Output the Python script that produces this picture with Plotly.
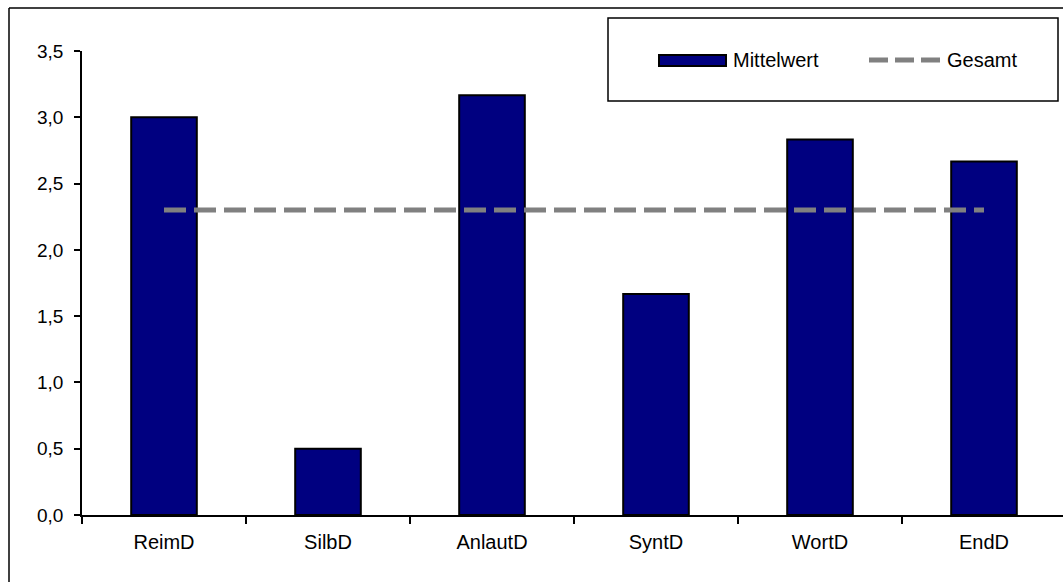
import plotly.graph_objects as go

categories = ["ReimD", "SilbD", "AnlautD", "SyntD", "WortD", "EndD"]
mittelwert = [3.0, 0.5, 3.167, 1.667, 2.833, 2.667]
gesamt = [2.3] * len(categories)
y_ticks = [0, 0.5, 1.0, 1.5, 2.0, 2.5, 3.0, 3.5]
y_tick_labels = ["0,0", "0,5", "1,0", "1,5", "2,0", "2,5", "3,0", "3,5"]

FONT = "Liberation Sans, Arial, sans-serif"
W, H = 1063, 582
L, T, B = 82, 51, 67
PW = W - L
PH = H - T - B

def px(x):
    return (x - L) / PW

def py(y):
    return (H - B - y) / PH

fig = go.Figure()
fig.add_trace(go.Bar(
    x=categories, y=mittelwert, name="Mittelwert",
    marker=dict(color="#000080", line=dict(color="black", width=2)),
    width=0.4, showlegend=False,
))
fig.add_trace(go.Scatter(
    x=categories, y=gesamt, name="Gesamt", mode="lines",
    line=dict(color="#808080", width=5, dash="22px,8px"),
    showlegend=False,
))

shapes = [
    dict(type="line", xref="paper", yref="paper", x0=px(9), x1=px(1070), y0=py(8), y1=py(8),
         line=dict(color="black", width=1.5)),
    dict(type="line", xref="paper", yref="paper", x0=px(9), x1=px(9), y0=py(8), y1=py(590),
         line=dict(color="black", width=1.5)),
    dict(type="rect", xref="paper", yref="paper", x0=px(608), x1=px(1058), y0=py(18), y1=py(101),
         line=dict(color="black", width=1.5), fillcolor="white"),
    dict(type="rect", xref="paper", yref="paper", x0=px(659), x1=px(726), y0=py(55), y1=py(66),
         line=dict(color="black", width=2), fillcolor="#000080"),
    dict(type="line", xref="paper", yref="paper", x0=px(869), x1=px(940), y0=py(60), y1=py(60),
         line=dict(color="#808080", width=5, dash="19px,7px")),
]
annotations = [
    dict(text="Mittelwert", xref="paper", yref="paper", x=px(731), y=py(60),
         xanchor="left", yanchor="middle", showarrow=False,
         font=dict(family=FONT, size=20, color="black")),
    dict(text="Gesamt", xref="paper", yref="paper", x=px(945), y=py(60),
         xanchor="left", yanchor="middle", showarrow=False,
         font=dict(family=FONT, size=20, color="black")),
]

fig.update_layout(
    width=W, height=H,
    margin=dict(l=L, r=0, t=T, b=B),
    paper_bgcolor="white", plot_bgcolor="white",
    font=dict(family=FONT, size=20, color="black"),
    shapes=shapes, annotations=annotations,
    showlegend=False,
)
fig.update_xaxes(
    type="category", range=[-0.5, 5.5 - 3 / 164],
    showline=True, linecolor="black", linewidth=1.5,
    ticks="outside", ticklen=7, tickcolor="black", tickwidth=1.5,
    tickson="boundaries", showgrid=False, zeroline=False,
    tickfont=dict(family=FONT, size=20), ticklabelstandoff=8,
)
fig.update_yaxes(
    range=[0, 3.5], tickvals=y_ticks, ticktext=y_tick_labels,
    showline=True, linecolor="black", linewidth=1.5,
    ticks="outside", ticklen=6, tickcolor="black", tickwidth=1.5,
    showgrid=False, zeroline=False,
    tickfont=dict(family=FONT, size=19), ticklabelstandoff=7,
)

fig.write_html("out.html")
